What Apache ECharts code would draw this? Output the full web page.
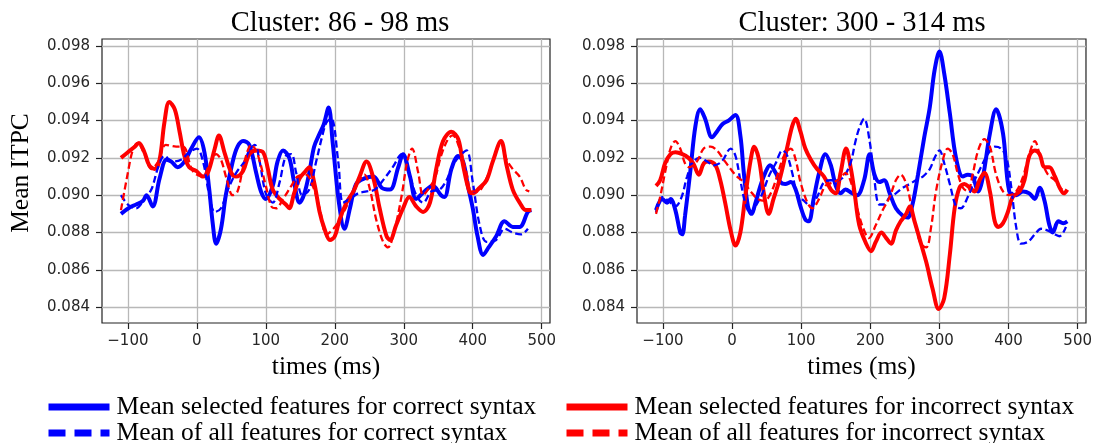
<!DOCTYPE html>
<html>
<head>
<meta charset="utf-8">
<script src="https://cdn.jsdelivr.net/npm/echarts@6/dist/echarts.min.js"></script>
<style>
html,body{margin:0;padding:0;background:#fff;}
#chart{width:1095px;height:443px;}
</style>
</head>
<body>
<div id="chart"></div>
<script>
// ---- tick labels / titles ----
const xTickValues = [-100, 0, 100, 200, 300, 400, 500];
const yTickValues = [0.084, 0.086, 0.088, 0.090, 0.092, 0.094, 0.096, 0.098];
const panelTitles = ['Cluster: 86 - 98 ms', 'Cluster: 300 - 314 ms'];
const xAxisTitle = 'times (ms)';
const yAxisTitle = 'Mean ITPC';
const seriesNames = [
  'Mean selected features for correct syntax',
  'Mean selected features for incorrect syntax',
  'Mean of all features for correct syntax',
  'Mean of all features for incorrect syntax'
];

// ---- left panel (86 - 98 ms): [time ms, mean ITPC] ----
const leftSelCorrect = [[-110,0.0890],[-97,0.08935],[-88,0.0895],[-78,0.0897],[-73,0.0900],[-64,0.0894],[-54,0.0909],[-44,0.0919],[-37,0.0918],[-28,0.0915],[-18,0.0918],[-8,0.0925],[3,0.0931],[11,0.0923],[18,0.0903],[23,0.0885],[28,0.0874],[35,0.0882],[42,0.0900],[52,0.0918],[59,0.0926],[67,0.0929],[76,0.0927],[86,0.0912],[93,0.0902],[100,0.0898],[110,0.0905],[117,0.0918],[125,0.0924],[134,0.0920],[141,0.0907],[149,0.0896],[156,0.0901],[163,0.0912],[170,0.0926],[178,0.0933],[184,0.0938],[191,0.0947],[197,0.0928],[206,0.0896],[214,0.0882],[222,0.0893],[231,0.0906],[243,0.0909],[256,0.0910],[268,0.0904],[280,0.0903],[292,0.0915],[299,0.0922],[309,0.0910],[318,0.0898],[330,0.0902],[342,0.0905],[354,0.0900],[359,0.0899],[369,0.0914],[379,0.0921],[386,0.0918],[393,0.0905],[400,0.0893],[407,0.0878],[415,0.0868],[423,0.0872],[434,0.0878],[446,0.0886],[458,0.0883],[468,0.0883],[480,0.0891],[485,0.0892]];
const leftSelIncorrect = [[-110,0.0920],[-100,0.0923],[-90,0.0926],[-84,0.0928],[-76,0.0923],[-69,0.0916],[-61,0.0914],[-54,0.0919],[-47,0.0939],[-40,0.0950],[-32,0.0946],[-25,0.0934],[-18,0.0921],[-11,0.0915],[-1,0.0913],[9,0.0910],[16,0.0912],[26,0.0925],[32,0.0932],[40,0.0923],[50,0.0912],[57,0.0910],[67,0.0913],[76,0.0922],[86,0.0924],[96,0.0923],[103,0.0914],[110,0.0903],[120,0.0898],[129,0.0895],[134,0.0893],[141,0.0901],[149,0.0909],[158,0.0913],[163,0.0915],[170,0.0907],[178,0.0891],[185,0.0882],[193,0.0876],[200,0.0878],[207,0.0887],[217,0.0896],[227,0.0902],[236,0.0910],[246,0.0918],[256,0.0909],[265,0.0893],[275,0.0878],[280,0.0876],[289,0.0884],[299,0.0893],[308,0.0899],[318,0.0894],[328,0.0891],[338,0.0896],[347,0.0914],[357,0.0929],[369,0.0934],[379,0.0930],[386,0.0916],[395,0.0902],[400,0.0901],[410,0.0904],[420,0.0908],[429,0.0918],[441,0.0929],[449,0.0916],[458,0.0903],[468,0.0896],[477,0.0892],[485,0.0892]];
const leftAllCorrect = [[-110,0.0900],[-100,0.0895],[-88,0.0893],[-76,0.0898],[-66,0.0903],[-56,0.0915],[-47,0.0921],[-35,0.0918],[-23,0.0919],[-11,0.0923],[0,0.0925],[9,0.0918],[18,0.0900],[26,0.0891],[35,0.0893],[45,0.0903],[57,0.0912],[69,0.0918],[76,0.0924],[84,0.0927],[91,0.0918],[100,0.0901],[110,0.0896],[120,0.0907],[129,0.0921],[137,0.0922],[144,0.0912],[153,0.0900],[163,0.0903],[173,0.0918],[182,0.0932],[188,0.0939],[195,0.0941],[205,0.0918],[212,0.0896],[222,0.0898],[234,0.0901],[246,0.0902],[258,0.0903],[272,0.0909],[284,0.0915],[297,0.0922],[306,0.0914],[318,0.0900],[328,0.0896],[340,0.0902],[352,0.0903],[362,0.0908],[371,0.0916],[381,0.0921],[391,0.0924],[400,0.0907],[410,0.0884],[420,0.0875],[434,0.0876],[446,0.0882],[458,0.0880],[470,0.0879],[480,0.0882]];
const leftAllIncorrect = [[-110,0.0892],[-100,0.0912],[-93,0.0924],[-86,0.0928],[-76,0.0922],[-66,0.0914],[-56,0.0918],[-45,0.0927],[-30,0.0926],[-20,0.0926],[-6,0.0913],[8,0.0910],[18,0.0916],[28,0.0922],[35,0.0919],[43,0.0909],[52,0.0900],[59,0.0902],[69,0.0918],[79,0.0927],[88,0.0922],[100,0.0905],[108,0.0894],[115,0.0893],[125,0.0898],[137,0.0905],[146,0.0910],[158,0.0911],[168,0.0905],[178,0.0893],[188,0.0879],[198,0.0882],[207,0.0887],[217,0.0894],[227,0.0902],[236,0.0908],[243,0.0911],[251,0.0903],[260,0.0887],[270,0.0875],[277,0.0872],[287,0.0882],[297,0.0900],[305,0.0918],[312,0.0925],[321,0.0912],[328,0.0900],[335,0.0903],[345,0.0909],[354,0.0921],[364,0.0930],[371,0.0932],[381,0.0925],[391,0.0912],[398,0.0902],[407,0.0902],[420,0.0909],[429,0.0918],[441,0.0928],[449,0.0919],[458,0.0914],[468,0.0910],[477,0.0903],[482,0.0902]];

// ---- right panel (300 - 314 ms): [time ms, mean ITPC] ----
const rightSelCorrect = [[-110,0.0892],[-101,0.0898],[-94,0.0896],[-89,0.0898],[-82,0.0892],[-75,0.0880],[-72,0.0879],[-68,0.0889],[-60,0.0914],[-53,0.0937],[-46,0.0946],[-39,0.0941],[-29,0.0931],[-22,0.0934],[-14,0.0938],[-5,0.0940],[5,0.0943],[12,0.0932],[17,0.0912],[23,0.0894],[28,0.0890],[34,0.0896],[41,0.0905],[48,0.0912],[55,0.0916],[63,0.0912],[70,0.0907],[77,0.0906],[85,0.0907],[92,0.0903],[99,0.0894],[106,0.0887],[111,0.0886],[118,0.0898],[126,0.0912],[135,0.0922],[143,0.0916],[150,0.0905],[157,0.0901],[164,0.0903],[174,0.0901],[181,0.0900],[191,0.0908],[199,0.0922],[206,0.0911],[213,0.0907],[220,0.0908],[228,0.0901],[237,0.0893],[247,0.0889],[254,0.0888],[261,0.0895],[269,0.0911],[278,0.0931],[286,0.0947],[293,0.0967],[300,0.0977],[307,0.0965],[315,0.0944],[324,0.0920],[334,0.0910],[341,0.0911],[348,0.0910],[356,0.0902],[363,0.0910],[373,0.0933],[382,0.0946],[392,0.0933],[401,0.0902],[411,0.0900],[421,0.0902],[430,0.0901],[438,0.0898],[445,0.0904],[452,0.0897],[459,0.0884],[464,0.0880],[472,0.0886],[479,0.0885],[485,0.0886]];
const rightSelIncorrect = [[-110,0.0905],[-104,0.0908],[-97,0.0917],[-89,0.0922],[-82,0.0923],[-72,0.0922],[-63,0.0920],[-56,0.0917],[-48,0.0911],[-41,0.0917],[-34,0.0918],[-24,0.0916],[-17,0.0908],[-10,0.0896],[-2,0.0881],[5,0.0873],[12,0.0880],[19,0.0899],[27,0.0919],[32,0.0926],[39,0.0919],[46,0.0901],[53,0.0890],[60,0.0898],[70,0.0910],[80,0.0926],[87,0.0937],[92,0.0941],[99,0.0934],[106,0.0925],[114,0.0919],[123,0.0914],[133,0.0910],[143,0.0903],[150,0.0901],[157,0.0912],[165,0.0925],[172,0.0914],[177,0.0902],[184,0.0884],[194,0.0874],[201,0.0870],[208,0.0875],[216,0.0880],[223,0.0877],[230,0.0874],[237,0.0881],[244,0.0886],[252,0.0890],[257,0.0894],[264,0.0886],[271,0.0877],[281,0.0864],[290,0.0850],[299,0.0839],[307,0.0845],[315,0.0868],[322,0.0893],[329,0.0904],[336,0.0906],[344,0.0904],[351,0.0902],[358,0.0908],[365,0.0912],[373,0.0902],[380,0.0886],[385,0.0883],[392,0.0885],[399,0.0891],[406,0.0899],[416,0.0902],[423,0.0908],[430,0.0921],[438,0.0924],[445,0.0922],[452,0.0915],[459,0.0915],[467,0.0910],[474,0.0904],[480,0.0901],[485,0.0903]];
const rightAllCorrect = [[-110,0.0891],[-101,0.0899],[-92,0.0897],[-82,0.0894],[-73,0.0899],[-65,0.0910],[-56,0.0918],[-46,0.0920],[-36,0.0918],[-27,0.0916],[-15,0.0918],[-2,0.0925],[5,0.0921],[12,0.0908],[19,0.0896],[27,0.0890],[34,0.0894],[44,0.0901],[53,0.0910],[63,0.0917],[73,0.0924],[80,0.0921],[87,0.0912],[94,0.0901],[104,0.0897],[114,0.0894],[123,0.0899],[133,0.0907],[143,0.0908],[152,0.0908],[162,0.0910],[172,0.0918],[178,0.0928],[184,0.0936],[191,0.0941],[199,0.0929],[206,0.0908],[213,0.0895],[220,0.0895],[228,0.0899],[237,0.0901],[247,0.0904],[257,0.0906],[266,0.0908],[276,0.0910],[286,0.0914],[293,0.0920],[300,0.0924],[307,0.0917],[315,0.0906],[324,0.0894],[331,0.0893],[341,0.0899],[351,0.0908],[360,0.0915],[370,0.0922],[380,0.0926],[389,0.0925],[397,0.0920],[404,0.0904],[411,0.0883],[418,0.0874],[428,0.0875],[438,0.0879],[447,0.0882],[457,0.0881],[467,0.0879],[474,0.0878],[483,0.0883]];
const rightAllIncorrect = [[-110,0.0890],[-104,0.0899],[-97,0.0912],[-89,0.0925],[-82,0.0929],[-75,0.0925],[-68,0.0917],[-62,0.0915],[-51,0.0918],[-41,0.0925],[-31,0.0926],[-22,0.0924],[-12,0.0919],[-2,0.0914],[7,0.0910],[17,0.0907],[27,0.0902],[37,0.0898],[47,0.0897],[56,0.0901],[65,0.0910],[75,0.0921],[85,0.0925],[92,0.0919],[99,0.0907],[109,0.0896],[116,0.0893],[126,0.0898],[135,0.0905],[147,0.0907],[157,0.0909],[164,0.0912],[172,0.0907],[181,0.0893],[189,0.0883],[198,0.0877],[208,0.0884],[218,0.0892],[228,0.0899],[237,0.0908],[244,0.0911],[252,0.0906],[259,0.0895],[266,0.0883],[273,0.0874],[281,0.0872],[288,0.0883],[295,0.0902],[305,0.0919],[312,0.0925],[319,0.0922],[327,0.0911],[334,0.0904],[341,0.0902],[348,0.0911],[356,0.0924],[365,0.0930],[373,0.0926],[382,0.0911],[392,0.0902],[401,0.0900],[411,0.0902],[421,0.0910],[430,0.0922],[438,0.0929],[447,0.0919],[457,0.0911],[467,0.0908],[474,0.0904],[483,0.0902]];

const BLUE = '#0000ff', RED = '#ff0000';
const SERIF = '"Liberation Serif", "Times New Roman", serif';
const SANS = '"DejaVu Sans", sans-serif';

const panels = [
  {sel: [leftSelCorrect, leftSelIncorrect], all: [leftAllCorrect, leftAllIncorrect]},
  {sel: [rightSelCorrect, rightSelIncorrect], all: [rightAllCorrect, rightAllIncorrect]}
];

const grids = [
  {left: 102, top: 39, width: 448, height: 284},
  {left: 637, top: 39, width: 449, height: 284}
];

function xAxisFor(i) {
  return {
    type: 'value', gridIndex: i, min: -137.5, max: 512, position: 'bottom',
    name: xAxisTitle, nameLocation: 'middle', nameGap: 27,
    nameTextStyle: {fontFamily: SERIF, fontSize: 25.5, color: '#000'},
    axisLine: {show: false, onZero: false},
    axisTick: {show: true, inside: false, length: 6, customValues: xTickValues, lineStyle: {color: '#222', width: 1.2}},
    axisLabel: {customValues: xTickValues, margin: 11, fontFamily: SANS, fontSize: 15, color: '#262626',
      formatter: v => (v < 0 ? '\u2212' + Math.abs(v) : String(v))},
    splitLine: {show: true, lineStyle: {color: '#b8b8b8', width: 1.3}}
  };
}
function yAxisFor(i) {
  return {
    type: 'value', gridIndex: i, min: 0.08315, max: 0.09837, position: 'left',
    axisLine: {show: false, onZero: false},
    axisTick: {show: true, inside: false, length: 6, customValues: yTickValues, lineStyle: {color: '#222', width: 1.2}},
    axisLabel: {customValues: yTickValues, margin: 12, fontFamily: SANS, fontSize: 15, color: '#262626',
      formatter: v => v.toFixed(3)},
    splitLine: {show: true, lineStyle: {color: '#b8b8b8', width: 1.3}}
  };
}

const series = [];
panels.forEach((p, i) => {
  const defs = [
    [seriesNames[0], p.sel[0], BLUE, false],
    [seriesNames[1], p.sel[1], RED, false],
    [seriesNames[2], p.all[0], BLUE, true],
    [seriesNames[3], p.all[1], RED, true]
  ];
  defs.forEach(([name, data, color, dashed], k) => {
    series.push({
      type: 'line', name, data, xAxisIndex: i, yAxisIndex: i,
      symbol: 'none', smooth: 0.35, silent: true, z: 2 + k,
      lineStyle: {color, width: dashed ? 2.3 : 4, type: dashed ? [7, 3.5] : 'solid'},
      itemStyle: {color}
    });
  });
});

function legendFor(name, left, top, dashed) {
  return {
    left, top, orient: 'horizontal', data: [name], padding: 0,
    itemWidth: 61, itemHeight: 7, selectedMode: false,
    textStyle: {fontFamily: SERIF, fontSize: 25.5, color: '#000', padding: [0, 0, 0, 2]},
    lineStyle: {width: 7, type: dashed ? [17, 9] : 'solid', cap: 'butt'},
    itemStyle: {opacity: 0}
  };
}

const chart = echarts.init(document.getElementById('chart'), null, {renderer: 'canvas'});
chart.setOption({
  animation: false,
  backgroundColor: '#ffffff',
  title: [
    {text: panelTitles[0], left: 340, top: 9, textAlign: 'center', padding: 0,
     textStyle: {fontFamily: SERIF, fontSize: 28.5, fontWeight: 'normal', color: '#000'}},
    {text: panelTitles[1], left: 862, top: 9, textAlign: 'center', padding: 0,
     textStyle: {fontFamily: SERIF, fontSize: 28.5, fontWeight: 'normal', color: '#000'}}
  ],
  grid: grids.map(g => Object.assign({show: true, borderColor: '#222', borderWidth: 1.2, backgroundColor: 'transparent'}, g)),
  xAxis: [xAxisFor(0), xAxisFor(1)],
  yAxis: [yAxisFor(0), yAxisFor(1)],
  legend: [
    legendFor(seriesNames[0], 45, 394, false),
    legendFor(seriesNames[1], 563, 394, false),
    legendFor(seriesNames[2], 45, 420, true),
    legendFor(seriesNames[3], 563, 420, true)
  ],
  graphic: [{
    type: 'text', x: 21, y: 173, rotation: Math.PI / 2,
    style: {text: yAxisTitle, font: '25.5px ' + SERIF, fill: '#000',
      align: 'center', verticalAlign: 'middle', textAlign: 'center', textVerticalAlign: 'middle'}
  }],
  series
});
</script>
</body>
</html>
